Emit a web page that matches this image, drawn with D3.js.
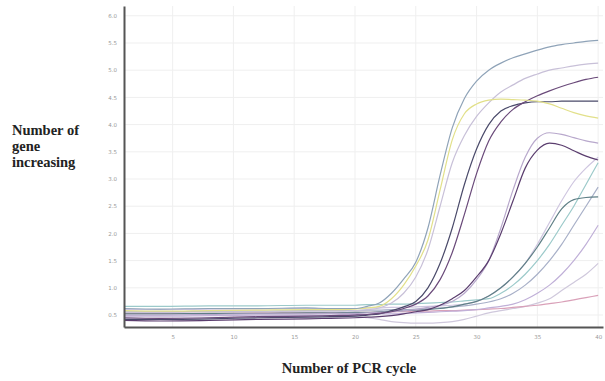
<!DOCTYPE html>
<html>
  <body style="margin:0;background:#fff;">
    <style>
      svg { display: block; }
      .tick text { fill: #999; font-family: "DejaVu Sans", sans-serif; font-size: 5.5px; }
      .title { font-family: "Liberation Serif", serif; font-weight: bold; font-size: 14.5px; fill: #222; }
    </style>
    <script src="https://d3js.org/d3.v7.min.js"></script>
    <script type="text/javascript">
      // qPCR amplification curves
      const width = 605;
      const height = 381;

      const cycles = [1, 4, 8, 12, 16, 18, 20, 21, 22, 23, 24, 25, 26, 27, 28, 29, 30, 31, 32, 33, 34, 35, 36, 37, 38, 39, 40];
      const xTicks = [5, 10, 15, 20, 25, 30, 35, 40];
      const yTicks = [0.5, 1.0, 1.5, 2.0, 2.5, 3.0, 3.5, 4.0, 4.5, 5.0, 5.5, 6.0];

      const wellA = [0.62, 0.61, 0.62, 0.62, 0.63, 0.62, 0.62, 0.66, 0.72, 0.9, 1.16, 1.47, 2.1, 3.07, 3.94, 4.48, 4.8, 5.0, 5.13, 5.23, 5.3, 5.37, 5.43, 5.47, 5.5, 5.53, 5.55];
      const wellB = [0.55, 0.55, 0.56, 0.56, 0.57, 0.57, 0.58, 0.6, 0.63, 0.72, 0.9, 1.2, 1.7, 2.5, 3.3, 3.8, 4.15, 4.4, 4.6, 4.73, 4.85, 4.93, 5.0, 5.04, 5.08, 5.11, 5.13];
      const wellC = [0.45, 0.44, 0.45, 0.47, 0.48, 0.49, 0.5, 0.51, 0.53, 0.56, 0.62, 0.7, 0.85, 1.15, 1.65, 2.35, 3.1, 3.7, 4.05, 4.28, 4.42, 4.53, 4.62, 4.7, 4.77, 4.83, 4.87];
      const wellD = [0.58, 0.57, 0.58, 0.59, 0.6, 0.6, 0.61, 0.63, 0.66, 0.8, 1.05, 1.4, 1.88, 2.8, 3.72, 4.2, 4.38, 4.45, 4.47, 4.46, 4.45, 4.43, 4.38, 4.3, 4.22, 4.16, 4.12];
      const wellE = [0.42, 0.42, 0.43, 0.45, 0.46, 0.47, 0.48, 0.5, 0.52, 0.58, 0.65, 0.75, 1.0, 1.45, 2.1, 2.9, 3.55, 4.0, 4.25, 4.35, 4.4, 4.42, 4.42, 4.43, 4.43, 4.43, 4.43];
      const wellF = [0.4, 0.39, 0.4, 0.42, 0.43, 0.44, 0.45, 0.46, 0.47, 0.49, 0.52, 0.56, 0.6, 0.68, 0.8, 0.95, 1.2, 1.5, 2.0, 2.6, 3.2, 3.53, 3.66, 3.62, 3.52, 3.42, 3.35];
      const wellG = [0.5, 0.5, 0.51, 0.52, 0.52, 0.53, 0.53, 0.54, 0.55, 0.56, 0.58, 0.6, 0.64, 0.68, 0.75, 0.9, 1.15, 1.5, 2.1, 2.8, 3.4, 3.75, 3.85, 3.82, 3.76, 3.7, 3.66];
      const wellH = [0.6, 0.6, 0.61, 0.61, 0.62, 0.62, 0.62, 0.63, 0.63, 0.64, 0.64, 0.65, 0.66, 0.67, 0.68, 0.7, 0.75, 0.85, 1.0, 1.2, 1.45, 1.8, 2.2, 2.6, 2.95, 3.2, 3.4];
      const wellI = [0.52, 0.52, 0.53, 0.53, 0.54, 0.54, 0.55, 0.55, 0.56, 0.57, 0.58, 0.59, 0.6, 0.62, 0.65, 0.7, 0.75, 0.85, 1.0, 1.2, 1.45, 1.75, 2.1, 2.45, 2.62, 2.66, 2.67];
      const wellJ = [0.66, 0.66, 0.67, 0.67, 0.68, 0.68, 0.68, 0.69, 0.69, 0.7, 0.7, 0.71, 0.72, 0.73, 0.74, 0.76, 0.78, 0.8, 0.9, 1.05, 1.25, 1.5, 1.8, 2.15, 2.5, 2.9, 3.3];
      const wellK = [0.48, 0.48, 0.49, 0.5, 0.5, 0.5, 0.51, 0.51, 0.52, 0.52, 0.53, 0.54, 0.55, 0.56, 0.57, 0.58, 0.6, 0.63, 0.66, 0.7, 0.78, 0.9, 1.05, 1.25, 1.5, 1.8, 2.15];
      const wellL = [0.44, 0.44, 0.45, 0.45, 0.46, 0.46, 0.47, 0.45, 0.42, 0.38, 0.36, 0.35, 0.35, 0.36, 0.38, 0.42, 0.48, 0.54, 0.58, 0.62, 0.66, 0.72, 0.8, 0.95, 1.1, 1.25, 1.45];
      const wellM = [0.56, 0.56, 0.57, 0.57, 0.58, 0.58, 0.58, 0.59, 0.59, 0.6, 0.6, 0.61, 0.62, 0.63, 0.65, 0.67, 0.7, 0.74, 0.8, 0.9, 1.05, 1.25, 1.5, 1.8, 2.15, 2.5, 2.85];
      const wellN = [0.53, 0.53, 0.53, 0.54, 0.54, 0.54, 0.55, 0.55, 0.55, 0.56, 0.56, 0.57, 0.57, 0.58, 0.58, 0.59, 0.6, 0.61, 0.62, 0.64, 0.66, 0.68, 0.71, 0.74, 0.78, 0.82, 0.86];

      const wells = [
        { values: wellL, color: '#cfc8dc' },
        { values: wellN, color: '#d9a0b8' },
        { values: wellK, color: '#c0b0d8' },
        { values: wellJ, color: '#9ccaca' },
        { values: wellM, color: '#a8b0c8' },
        { values: wellH, color: '#cfc6e0' },
        { values: wellI, color: '#5f7f86' },
        { values: wellG, color: '#b8a8cc' },
        { values: wellF, color: '#5a3d6e' },
        { values: wellE, color: '#4a4a6a' },
        { values: wellC, color: '#6a4a7a' },
        { values: wellB, color: '#c8c0d8' },
        { values: wellD, color: '#e2e08a' },
        { values: wellA, color: '#8fa3b8' }
      ];

      const svg = d3.select('body')
        .append('svg')
        .attr('width', width)
        .attr('height', height);

      const x = d3.scaleLinear().domain([1, 40.4]).range([124, 603]);
      const y = d3.scaleLinear().domain([0.28, 6.18]).range([327, 6]);

      // faint grid
      svg.append('g')
        .selectAll('line')
        .data(xTicks)
        .join('line')
        .attr('x1', (d) => x(d)).attr('x2', (d) => x(d))
        .attr('y1', y(6.18)).attr('y2', y(0.28))
        .attr('stroke', '#efefef');

      svg.append('g')
        .selectAll('line')
        .data(yTicks)
        .join('line')
        .attr('x1', x(1)).attr('x2', x(40.4))
        .attr('y1', (d) => y(d)).attr('y2', (d) => y(d))
        .attr('stroke', '#efefef');

      const line = d3.line()
        .x((d, i) => x(cycles[i]))
        .y((d) => y(d))
        .curve(d3.curveMonotoneX);

      svg.append('g')
        .selectAll('path')
        .data(wells)
        .join('path')
        .attr('d', (d) => line(d.values))
        .attr('fill', 'none')
        .attr('stroke', (d) => d.color)
        .attr('stroke-width', 1.2);

      const xAxis = svg.append('g')
        .attr('transform', `translate(0,${y(0.28)})`)
        .call(d3.axisBottom(x).tickValues(xTicks).tickSize(0).tickPadding(8).tickFormat(d3.format('d')));
      xAxis.select('.domain').attr('stroke', '#555').attr('stroke-width', 2);

      const yAxis = svg.append('g')
        .attr('transform', `translate(${x(1)},0)`)
        .call(d3.axisLeft(y).tickValues(yTicks).tickSize(0).tickPadding(7).tickFormat(d3.format('.1f')));
      yAxis.select('.domain').attr('stroke', '#555').attr('stroke-width', 2);

      svg.append('text')
        .attr('class', 'title')
        .attr('x', 349)
        .attr('y', 373)
        .attr('text-anchor', 'middle')
        .text('Number of PCR cycle');

      const yTitle = svg.append('text')
        .attr('class', 'title')
        .attr('x', 12)
        .attr('y', 135);
      ['Number of', 'gene', 'increasing'].forEach((t, i) => {
        yTitle.append('tspan').attr('x', 12).attr('dy', i === 0 ? 0 : 16).text(t);
      });
    </script>
  </body>
</html>
